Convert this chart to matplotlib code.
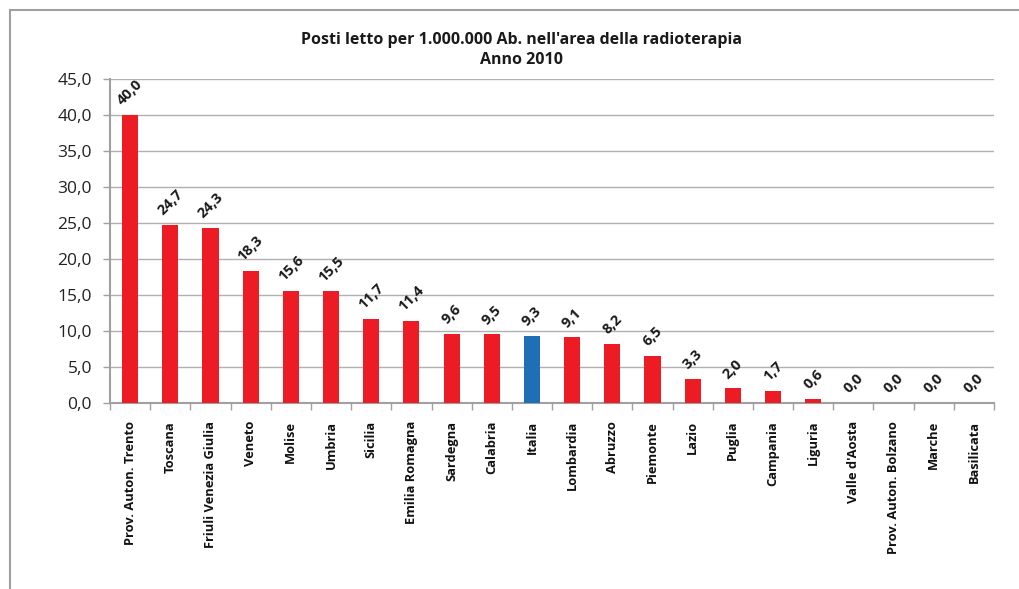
import numpy as np
import matplotlib.pyplot as plt
from matplotlib.lines import Line2D

regions = ["Prov. Auton. Trento", "Toscana", "Friuli Venezia Giulia", "Veneto",
           "Molise", "Umbria", "Sicilia", "Emilia Romagna", "Sardegna", "Calabria",
           "Italia", "Lombardia", "Abruzzo", "Piemonte", "Lazio", "Puglia",
           "Campania", "Liguria", "Valle d'Aosta", "Prov. Auton. Bolzano",
           "Marche", "Basilicata"]
values = [40.0, 24.7, 24.3, 18.3, 15.6, 15.5, 11.7, 11.4, 9.6, 9.5,
          9.3, 9.1, 8.2, 6.5, 3.3, 2.0, 1.7, 0.6, 0.0, 0.0, 0.0, 0.0]
highlight = "Italia"

plt.rcParams['font.family'] = ['Open Sans', 'DejaVu Sans']

fig = plt.figure(figsize=(10.19, 5.89), dpi=100)
ax = fig.add_axes([0.108, 0.316, 0.8675, 0.55])

# outer chart frame (top and left edges visible)
fig.add_artist(Line2D([10/1019, 1.0], [1 - 10/589, 1 - 10/589], color='#a0a0a0', lw=1.5,
                      transform=fig.transFigure))
fig.add_artist(Line2D([10/1019, 10/1019], [0, 1 - 10/589], color='#a0a0a0', lw=1.5,
                      transform=fig.transFigure))

x = np.arange(len(regions))
colors = ['#1f6fb6' if r == highlight else '#ed1c24' for r in regions]
ax.bar(x, values, width=0.4, color=colors, zorder=3)

for xi, v in zip(x, values):
    ax.annotate(f"{v:.1f}".replace('.', ','), (xi, v), xytext=(0, 5),
                textcoords='offset points', ha='center', va='bottom',
                rotation=45, fontsize=10.5, fontweight='bold', color='#1a1a1a')

ax.set_xlim(-0.5, len(regions) - 0.5)
ax.set_ylim(0, 45)
ax.set_yticks(np.arange(0, 46, 5))
ax.set_yticklabels([f"{t:.1f}".replace('.', ',') for t in np.arange(0, 46, 5)],
                   fontsize=12.5, color='#222222')
ax.yaxis.grid(True, color='#b0b0b0', lw=1, zorder=0)

ax.set_xticks(x)
ax.set_xticklabels(regions, rotation=90, fontsize=9.3, fontweight='bold', color='#111111')
ax.set_xticks(np.arange(-0.5, len(regions), 1), minor=True)
ax.tick_params(axis='x', which='major', length=0, pad=13)
ax.tick_params(axis='x', which='minor', length=5, color='#a0a0a0', width=1)
ax.tick_params(axis='y', length=5, color='#a0a0a0', width=1, pad=8)

for s in ['top', 'right']:
    ax.spines[s].set_visible(False)
for s in ['left', 'bottom']:
    ax.spines[s].set_color('#a0a0a0')
    ax.spines[s].set_linewidth(1.5)

fig.text(0.512, 1 - 40/589, "Posti letto per 1.000.000 Ab. nell'area della radioterapia",
         ha='center', va='center', fontsize=11.5, fontweight='bold', color='#1a1a1a')
fig.text(0.512, 1 - 60/589, "Anno 2010", ha='center', va='center',
         fontsize=11.5, fontweight='bold', color='#1a1a1a')

fig.savefig('out.png', dpi=100)
